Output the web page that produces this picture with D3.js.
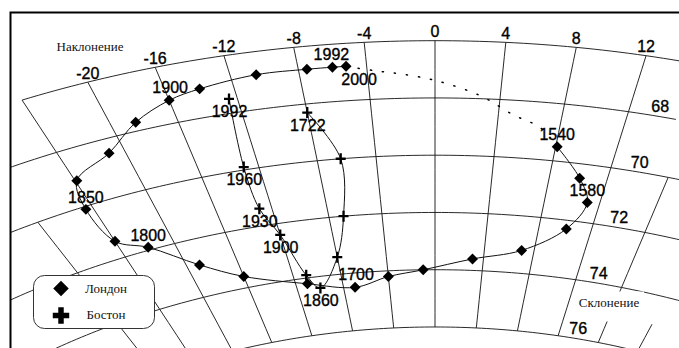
<!DOCTYPE html>
<html>
<head>
<meta charset="utf-8">
<script src="https://cdn.jsdelivr.net/npm/d3@7"></script>
<style>
  html, body { margin: 0; padding: 0; background: #fff; }
  svg { display: block; }
  .num { font-family: "Liberation Sans", Arial, sans-serif; font-size: 16px; fill: #000;
         stroke: #000; stroke-width: 0.35px; }
  .cap { font-family: "Liberation Serif", "Times New Roman", serif; font-size: 13px; fill: #111; }
</style>
</head>
<body>
<svg id="chart" width="679" height="348"></svg>
<script>
// ---- Secular variation records: declination D and inclination I, degrees ----
const londonYears = [1540, 1560, 1580, 1600, 1620, 1640, 1660, 1680, 1700, 1725, 1750, 1775,
                     1800, 1825, 1850, 1860, 1870, 1885, 1900, 1920, 1945, 1970, 1992, 2000];
const londonDecl  = [8.1, 10.1, 11.1, 10.1, 7.0, 3.1, -1.0, -4.0, -7.0, -11.0, -16.0, -19.0,
                     -22.0, -24.0, -24.5, -23.9, -21.0, -18.5, -16.0, -14.0, -10.5, -7.5, -6.0, -5.2];
const londonIncl  = [69.5, 70.5, 71.3, 72.3, 73.2, 73.6, 74.0, 74.2, 74.5, 74.2, 73.6, 72.9,
                     71.9, 71.4, 70.1, 69.1, 68.5, 67.7, 67.2, 67.0, 66.8, 66.8, 66.8, 66.8];

const bostonYears = [1722, 1760, 1800, 1830, 1860, 1880, 1900, 1930, 1960, 1992];
const bostonDecl  = [-8.0, -6.4, -6.9, -8.0, -10.0, -10.9, -12.0, -12.9, -13.0, -12.5];
const bostonIncl  = [68.3, 70.0, 72.0, 73.4, 74.4, 73.9, 72.4, 71.4, 69.9, 67.5];

// Dotted connection from the 2000 point back to the 1540 point
const bridgeDecl = [-5.2, -3.6, -2.0, 0.1, 2.8, 4.9, 6.8, 8.1];
const bridgeIncl = [66.8, 67.0, 67.15, 67.4, 67.9, 68.5, 68.9, 69.5];

// Labelled years
const londonLabelYears = [1540, 1580, 1700, 1800, 1850, 1900, 1992, 2000];
const bostonLabelYears = [1722, 1860, 1900, 1930, 1960, 1992];

// Grid / tick values
const declTicks = [-20, -16, -12, -8, -4, 0, 4, 8, 12];
const inclTicks = [68, 70, 72, 74, 76];
const meridianDecl  = [-28, -24, -20, -16, -12, -8, -4, 0, 4, 8, 12, 16, 20];
const meridianStart = [70, 66, 66, 66, 66, 66, 66, 66, 66, 66, 66, 70, 75];
const meridianEnd = 76;
const parallelIncl = [66, 68, 70, 72, 74, 76];
const parallelFrom = [-24, -40, -40, -40, -40, -40];
const parallelTo   = [26, 15, 26, 26, 26, 26];

const seriesNames = ["Лондон", "Бостон"];
const declTitle = "Наклонение";
const inclTitle = "Склонение";

// ---- Projection: polar equidistant about I = 90, stretched horizontally ----
const W = 679, H = 348;
const pxPerDeg = 28.63;
const ASPECT = 1.4775;
function stretchedPolarRaw(lambda, phi) {
  const rho = Math.PI / 2 - phi;
  return [ASPECT * rho * Math.sin(lambda), rho * Math.cos(lambda)];
}
const projection = d3.geoProjection(stretchedPolarRaw)
  .center([0, 90])
  .scale(pxPerDeg * 180 / Math.PI)
  .translate([435, 727.8]);
const geoPath = d3.geoPath(projection);
const P = (d, i) => projection([d, i]);

const svg = d3.select("#chart");

svg.append("defs").append("clipPath").attr("id", "frameClip")
  .append("rect").attr("x", 11).attr("y", 13).attr("width", W).attr("height", H);

// ---- Grid ----
const grid = svg.append("g").attr("clip-path", "url(#frameClip)")
  .attr("fill", "none").attr("stroke", "#111").attr("stroke-width", 0.9);

parallelIncl.forEach((inc, k) => {
  const coords = d3.range(parallelFrom[k], parallelTo[k] + 0.001, 0.5).map(d => [d, inc]);
  grid.append("path").attr("d", geoPath({ type: "LineString", coordinates: coords }));
});
meridianDecl.forEach((dec, k) => {
  const coords = d3.range(meridianStart[k], meridianEnd + 0.001, 0.5).map(i => [dec, i]);
  grid.append("path").attr("d", geoPath({ type: "LineString", coordinates: coords }));
});

// Frame
svg.append("rect").attr("x", 10.5).attr("y", 12.5).attr("width", 720).attr("height", 400)
  .attr("fill", "none").attr("stroke", "#000").attr("stroke-width", 2);

// ---- Axis labels ----
svg.append("g").selectAll("text").data(declTicks).join("text")
  .attr("class", "num").attr("text-anchor", "middle")
  .attr("x", d => P(d, 66)[0]).attr("y", d => P(d, 66)[1] - 3.5)
  .text(d => d);

svg.append("g").selectAll("text").data(inclTicks).join("text")
  .attr("class", "num").attr("text-anchor", "middle")
  .attr("x", i => P(14, i)[0]).attr("y", i => P(14, i)[1] - 4.5)
  .text(i => i);

svg.append("text").attr("class", "cap").attr("text-anchor", "middle")
  .attr("x", 90).attr("y", 51).text(declTitle);

svg.append("rect").attr("x", 574).attr("y", 291.5).attr("width", 70).attr("height", 30)
  .attr("fill", "#fff");
svg.append("text").attr("class", "cap").attr("text-anchor", "middle")
  .attr("x", 609).attr("y", 307).text(inclTitle);

// ---- Series ----
const curve = d3.line().curve(d3.curveCatmullRom.alpha(0.5));
const london = londonYears.map((y, k) => ({ year: y, p: P(londonDecl[k], londonIncl[k]) }));
const boston = bostonYears.map((y, k) => ({ year: y, p: P(bostonDecl[k], bostonIncl[k]) }));
const bridge = bridgeDecl.map((d, k) => P(d, bridgeIncl[k]));

svg.append("path").attr("d", curve(bridge))
  .attr("fill", "none").attr("stroke", "#000").attr("stroke-width", 1.5)
  .attr("stroke-dasharray", "1.2,11").attr("stroke-linecap", "round");

svg.append("path").attr("d", curve(london.map(o => o.p)))
  .attr("fill", "none").attr("stroke", "#111").attr("stroke-width", 1);
svg.append("path").attr("d", curve(boston.map(o => o.p)))
  .attr("fill", "none").attr("stroke", "#111").attr("stroke-width", 1);

const diamond = d3.symbol().type(d3.symbolSquare).size(60);
svg.append("g").selectAll("path").data(london).join("path")
  .attr("d", diamond)
  .attr("transform", o => `translate(${o.p[0]},${o.p[1]}) rotate(45)`)
  .attr("fill", "#000");

const plus = d3.path();
plus.moveTo(-5, 0); plus.lineTo(5, 0); plus.moveTo(0, -5.5); plus.lineTo(0, 5.5);
svg.append("g").selectAll("path").data(boston).join("path")
  .attr("d", plus.toString())
  .attr("transform", o => `translate(${o.p[0]},${o.p[1]})`)
  .attr("stroke", "#000").attr("stroke-width", 2.3).attr("fill", "none");

// Year labels
const londonShift = { 2000: [13, 19], 1700: [1, -7], 1900: [1, -7], 1992: [-1, -7] };
svg.append("g").selectAll("text")
  .data(london.filter(o => londonLabelYears.includes(o.year))).join("text")
  .attr("class", "num").attr("text-anchor", "middle")
  .attr("x", o => o.p[0] + (londonShift[o.year] || [0, -6.5])[0])
  .attr("y", o => o.p[1] + (londonShift[o.year] || [0, -6.5])[1])
  .text(o => o.year);

svg.append("g").selectAll("text")
  .data(boston.filter(o => bostonLabelYears.includes(o.year))).join("text")
  .attr("class", "num").attr("text-anchor", "middle")
  .attr("x", o => o.p[0] + 0.5)
  .attr("y", o => o.p[1] + 18)
  .text(o => o.year);

// ---- Legend ----
const legend = svg.append("g").attr("transform", "translate(33.5,275.5)");
legend.append("rect").attr("width", 121).attr("height", 53).attr("rx", 11)
  .attr("fill", "#fff").attr("stroke", "#333").attr("stroke-width", 1);
legend.append("path").attr("d", d3.symbol().type(d3.symbolSquare).size(120)())
  .attr("transform", "translate(27.5,13) rotate(45)").attr("fill", "#000");
legend.append("path").attr("d", d3.symbol().type(d3.symbolCross).size(150)())
  .attr("transform", "translate(27.5,40)").attr("fill", "#000");
legend.selectAll("text.cap").data(seriesNames).join("text")
  .attr("class", "cap").attr("x", (d, k) => k ? 53 : 51.5).attr("y", (d, k) => k ? 43.5 : 17.5)
  .text(d => d);
</script>
</body>
</html>
